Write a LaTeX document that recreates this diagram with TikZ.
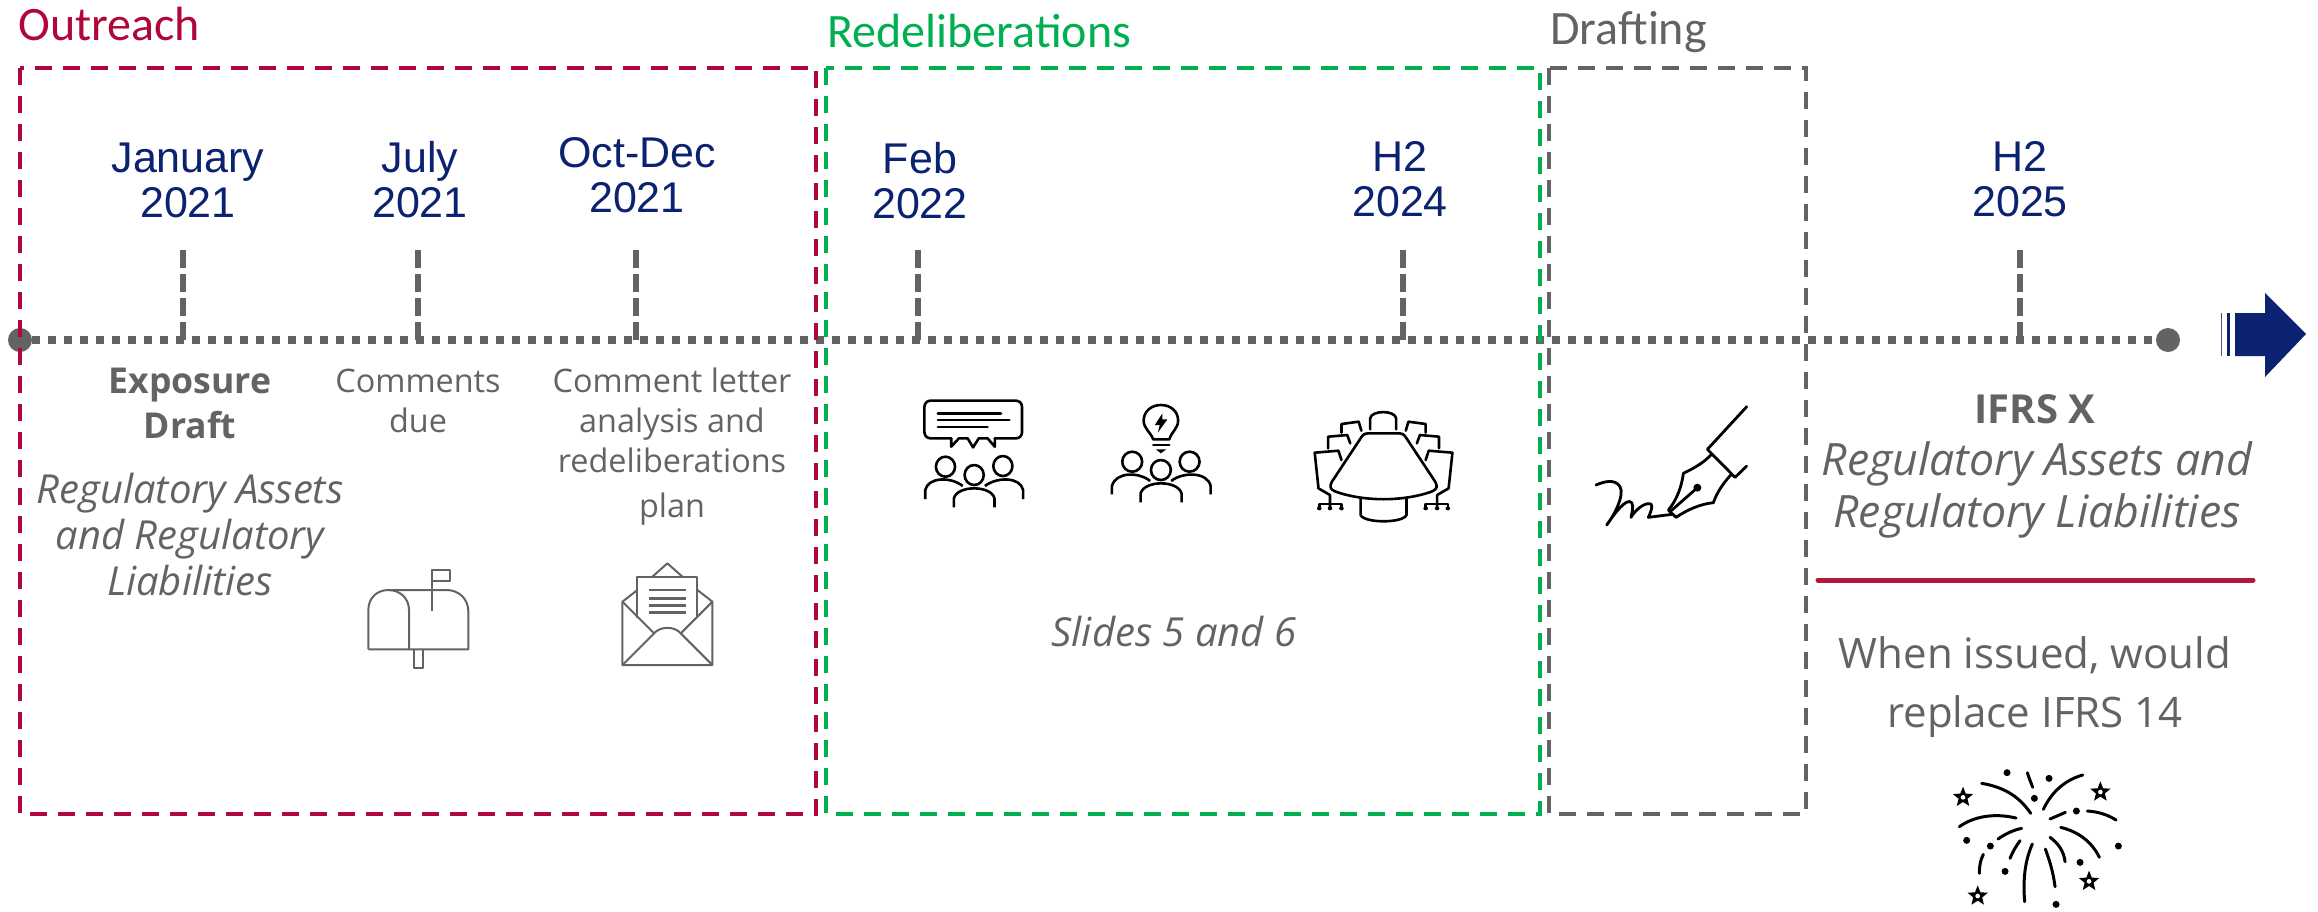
\documentclass[tikz,border=0pt]{standalone}
\usepackage{fontspec}
\setmainfont{Carlito}
\newfontfamily\arialf{Liberation Sans}
\newfontfamily\segoef{Open Sans}
\usetikzlibrary{calc}
\definecolor{navy}{HTML}{0A2270}
\definecolor{crimson}{HTML}{B0063A}
\definecolor{rulered}{HTML}{B5173B}
\definecolor{leaf}{HTML}{00B050}
\definecolor{slate}{HTML}{636363}
\tikzset{
  date/.style={text=navy,font=\arialf\fontsize{21.5}{22.5}\selectfont,align=center,inner sep=0pt},
  head/.style={font=\fontsize{24}{28}\selectfont,anchor=base west,inner sep=0pt},
  note/.style={text=slate,anchor=base,inner sep=0pt,font=\segoef\fontsize{16.2}{20}\selectfont},
  noteb/.style={note,font=\segoef\bfseries\fontsize{17.8}{20}\selectfont},
  notei/.style={note,font=\segoef\itshape\fontsize{20}{20}\selectfont},
  big/.style={text=slate,anchor=base,inner sep=0pt,font=\segoef\fontsize{21}{26}\selectfont},
  bigb/.style={big,font=\segoef\bfseries\fontsize{20}{26}\selectfont},
  bigi/.style={big,font=\segoef\itshape\fontsize{22.3}{26}\selectfont},
  frame/.style={line width=2pt,dash pattern=on 8.5pt off 5.5pt},
  tick/.style={slate,line width=3pt,dash pattern=on 9pt off 3pt},
  axis/.style={slate,line width=4pt,dash pattern=on 4pt off 4pt},
  endpoint/.style={circle,fill=slate,minimum size=12pt,inner sep=0pt},
  icong/.style={draw=slate,line width=1pt,line join=round},
  iconk/.style={draw=black,line width=1.3pt,line join=round,line cap=round},
  spark/.style={draw=black,line width=1.5pt,line cap=round}
}
\newcommand{\fwstar}[2]{\begin{scope}[shift={(#1,#2)}]
 \fill[black] (-90:32)--(-54:14)--(-18:32)--(18:14)--(54:32)--(90:14)--(126:32)--(162:14)--(198:32)--(234:14)--cycle;
 \fill[white] (0,0) circle (7);
\end{scope}}
\begin{document}
\begin{tikzpicture}[x=0.5pt,y=-0.5pt]
\useasboundingbox (0,0) rectangle (2318,911);
% axis
\node[endpoint] (start) at (20,340) {};
\node[endpoint] (stop) at (2168,340) {};
\draw[axis] (start) -- (stop);
% ticks
\foreach \n/\x in {a/183,b/418,c/636,d/918,e/1403,f/2020}{
  \coordinate (t\n) at (\x,250);
  \draw[tick] (t\n) -- (t\n |- start);
}
% frames
\draw[frame,crimson] (20,68) rectangle (816,814);
\draw[frame,leaf] (826,68) rectangle (1540,814);
\draw[frame,slate] (1549,68) rectangle (1806,814);
\node[head,text=crimson] (h1) at (18,40) {Outreach};
\node[head,text=leaf] (h2) at (827,47) {Redeliberations};
\node[head,text=slate] (h3) at (1550,44) {Drafting};
% dates
\node[date] (d1) at (188,180) {January\\2021};
\node[date] (d2) at (420,180) {July\\2021};
\node[date] (d3) at (637,175) {Oct-Dec\\2021};
\node[date] (d4) at (920,181) {Feb\\2022};
\node[date] (d5) at (1400,179) {H2\\2024};
\node[date] (d6) at (2020,179) {H2\\2025};
% notes
\node[noteb] (n1) at (190,393) {Exposure};
\node[noteb] (n2) at (190,438) {Draft};
\node[notei] (n3) at (190,503) {Regulatory Assets};
\node[notei] (n4) at (190,549) {and Regulatory};
\node[notei] (n5) at (190,595) {Liabilities};
\node[note] (n6) at (418,392) {Comments};
\node[note] (n7) at (418,432) {due};
\node[note] (n8) at (672,392) {Comment letter};
\node[note] (n9) at (672,432) {analysis and};
\node[note] (n10) at (672,472) {redeliberations};
\node[note] (n11) at (672,517) {plan};
\node[notei] (n12) at (1174,646) {Slides 5 and 6};
\node[bigb] (n13) at (2035,423) {IFRS X};
\node[bigi] (n14) at (2037,475) {Regulatory Assets and};
\node[bigi] (n15) at (2037,527) {Regulatory Liabilities};
\coordinate (ra) at (1818,580);
\coordinate (rb) at (2253,580);
\draw[rulered,line width=2.5pt,line cap=round] (ra) -- (rb);
\node[big] (n16) at (2035,668) {When issued, would};
\node[big] (n17) at (2035,727) {replace IFRS 14};
% arrow
\fill[navy] (2235,313) -- (2265,313) -- (2265,293) -- (2306,334) -- (2265,377) -- (2265,356) -- (2235,356) -- cycle;
\fill[navy] (2227,313) rectangle (2230,356);
\fill[navy!75] (2221,313) rectangle (2222,356);
% mailbox and envelope
\begin{scope}[shift={(340,540)},x=0.1667pt,y=-0.1667pt]
 \draw[icong] (85,328) -- (385,328) -- (385,215) .. controls (385,175) and (355,150) .. (320,150) -- (145,150);
 \draw[icong] (85,328) -- (85,210) .. controls (85,175) and (110,150) .. (145,150) .. controls (180,150) and (207,175) .. (207,210) -- (207,328);
 \draw[icong] (221,328) -- (221,385) -- (249,385) -- (249,328);
 \draw[icong] (277,212) -- (277,90) -- (330,90) -- (330,122) -- (277,122);
 \draw[icong] (892,150) -- (847,185) -- (847,375) -- (1117,375) -- (1117,185) -- (1072,150);
 \draw[icong] (937,110) -- (982,70) -- (1027,110);
 \draw[icong] (892,235) -- (892,110) -- (1072,110) -- (1072,235);
 \draw[icong,line width=1.2pt] (928,150) -- (1038,150) (928,175) -- (1038,175) (928,196) -- (1038,196) (928,217) -- (1038,217);
 \draw[icong] (847,185) -- (942,280) (1117,185) -- (1022,280);
 \draw[icong] (847,375) -- (942,280) .. controls (960,258) and (1004,258) .. (1022,280) -- (1117,375);
\end{scope}
% group icons
\begin{scope}[shift={(890,380)},x=0.1913pt,y=-0.1667pt]
 \draw[iconk,rounded corners=3pt] (160,175) -- (90,175) -- (90,62) -- (345,62) -- (345,175) -- (274,175);
 \draw[iconk] (160,175) -- (160,200) -- (180,175) -- (203,175) -- (217,202) -- (232,175) -- (255,175) -- (274,200) -- (274,175);
 \draw[iconk] (125,100) -- (290,100) (125,120) -- (312,120) (125,141) -- (255,141);
 \draw[iconk] (145,260) ellipse (25 and 30) (220,285) ellipse (25 and 30) (295,258) ellipse (25 and 30);
 \draw[iconk,line cap=butt] (92,357) -- (92,330) .. controls (100,290) and (160,290) .. (190,318);
 \draw[iconk,line cap=butt] (348,357) -- (348,330) .. controls (340,290) and (280,290) .. (248,318);
 \draw[iconk,line cap=butt] (167,382) -- (167,355) .. controls (175,315) and (265,315) .. (273,355) -- (273,382);
 % bulb
 \draw[iconk] (688,178) .. controls (680,155) and (663,145) .. (663,122) .. controls (663,92) and (685,75) .. (708,75) .. controls (732,75) and (753,92) .. (753,122) .. controls (753,145) and (736,155) .. (730,178) -- cycle;
 \draw[iconk] (688,195) -- (730,195);
 \fill[black] (695,208) -- (722,208) -- (708,220) -- cycle;
 \fill[black] (712,100) -- (692,135) -- (705,135) -- (700,158) -- (725,118) -- (712,118) -- cycle;
 \draw[iconk] (633,245) ellipse (26 and 30) (708,270) ellipse (26 and 30) (783,245) ellipse (26 and 30);
 \draw[iconk,line cap=butt] (580,343) -- (580,318) .. controls (590,275) and (650,275) .. (680,303);
 \draw[iconk,line cap=butt] (838,343) -- (838,318) .. controls (830,275) and (765,275) .. (735,303);
 \draw[iconk,line cap=butt] (655,367) -- (655,340) .. controls (665,300) and (752,300) .. (762,340) -- (762,367);
 % table
 \draw[iconk] (1250,160) -- (1330,160) .. controls (1340,160) and (1345,165) .. (1350,175) -- (1425,305) .. controls (1432,320) and (1430,328) .. (1415,335) .. controls (1340,365) and (1240,365) .. (1165,335) .. controls (1150,328) and (1148,320) .. (1155,305) -- (1230,175) .. controls (1235,165) and (1240,160) .. (1250,160) -- cycle;
 \draw[iconk] (1255,148) -- (1255,115) .. controls (1258,90) and (1320,90) .. (1323,115) -- (1323,148);
 \draw[iconk,line cap=butt] (1230,352) -- (1230,405) .. controls (1240,430) and (1340,430) .. (1350,405) -- (1350,352);
 \foreach \m in {0,1}{
  \begin{scope}[xshift={\m*2580*0.1913pt},xscale={1-2*\m}]
   \draw[iconk] (1180,158) -- (1180,132) -- (1225,125) -- (1232,152);
   \draw[iconk] (1145,205) -- (1145,170) -- (1195,165) -- (1203,190);
   \draw[iconk] (1180,240) -- (1172,212) -- (1110,218) -- (1120,325) -- (1150,345) -- (1150,385);
   \draw[iconk] (1122,385) -- (1122,372) -- (1180,372) -- (1180,385);
   \fill[black] (1122,385) circle (6) (1150,385) circle (6) (1180,385) circle (6);
  \end{scope}
 }
\end{scope}
% pen
\begin{scope}[shift={(1570,380)},x=0.1667pt,y=-0.1667pt]
 \draw[iconk,line width=1.4pt] (530,80) -- (412,208) -- (495,292) -- (530,258);
 \draw[iconk,line width=1.4pt] (425,222) .. controls (400,250) and (370,265) .. (340,280) .. controls (335,320) and (320,360) .. (295,390) -- (318,412) .. controls (350,390) and (390,372) .. (430,368) .. controls (440,340) and (455,315) .. (482,285);
 \draw[iconk,line width=1.4pt] (300,395) -- (382,323);
 \fill[black] (382,323) circle (12);
 \draw[iconk,line width=1.4pt] (78,315) .. controls (100,305) and (135,295) .. (150,320) .. controls (165,345) and (130,410) .. (110,435) .. controls (130,405) and (170,350) .. (185,368) .. controls (192,378) and (185,400) .. (183,412) .. controls (195,390) and (225,365) .. (243,372) .. controls (250,380) and (240,400) .. (235,412) -- (305,403);
\end{scope}
% fireworks
\begin{scope}[shift={(1930,750)},x=0.1667pt,y=-0.1667pt]
 \fill[black] \foreach \p in {(231,68),(357,85),(313,145),(439,183),(110,271),(181,288),(225,364),(450,337),(565,288),(378,463)}{\p circle (10.5)};
 \draw[spark] (292,68) .. controls (297,85) and (303,98) .. (308,112);
 \draw[spark] (155,100) .. controls (215,110) and (265,135) .. (302,190);
 \draw[spark] (458,75) .. controls (405,90) and (365,125) .. (340,178);
 \draw[spark] (360,207) -- (406,187);
 \draw[spark] (472,183) .. controls (500,185) and (530,192) .. (558,210);
 \draw[spark] (88,230) .. controls (130,200) and (190,188) .. (258,204);
 \draw[spark] (204,267) .. controls (225,252) and (250,240) .. (275,235);
 \draw[spark] (240,325) .. controls (248,305) and (258,288) .. (270,272);
 \draw[spark] (160,313) .. controls (150,332) and (148,350) .. (148,370);
 \draw[spark] (307,282) .. controls (285,330) and (278,390) .. (284,455);
 \draw[spark] (346,297) .. controls (360,335) and (370,370) .. (375,410);
 \draw[spark] (360,262) .. controls (385,280) and (402,305) .. (405,335);
 \draw[spark] (392,232) .. controls (445,245) and (485,275) .. (508,322);
 \fwstar{99}{142}
 \fwstar{511}{126}
 \fwstar{477}{394}
 \fwstar{143}{438}
\end{scope}
\end{tikzpicture}
\end{document}
